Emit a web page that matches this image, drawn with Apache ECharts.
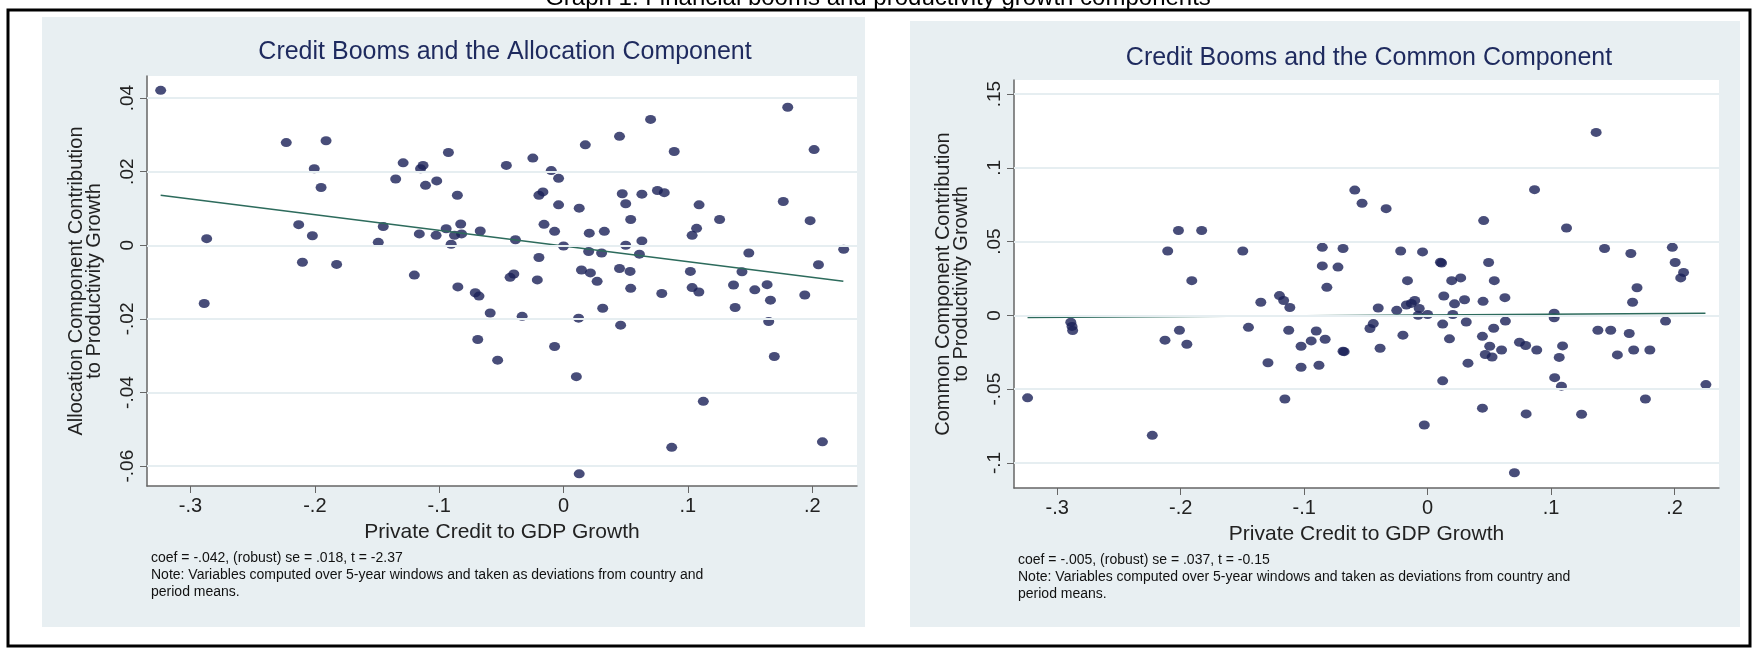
<!DOCTYPE html>
<html><head><meta charset="utf-8">
<script src="https://cdn.jsdelivr.net/npm/echarts@6/dist/echarts.min.js"></script>
<style>html,body{margin:0;padding:0;background:#fff}#c{width:1756px;height:648px}</style>
</head><body><div id="c"></div>
<script>
// Allocation component (left panel)
var allocX = [-0.324,-0.287,-0.289,-0.223,-0.191,-0.2005,-0.195,-0.213,-0.202,-0.21,-0.1825,-0.149,-0.145,-0.135,-0.129,-0.115,-0.113,-0.111,-0.102,-0.116,-0.12,-0.1025,-0.0926,-0.0944,-0.0854,-0.0827,-0.0877,-0.0904,-0.085,-0.082,-0.067,-0.071,-0.068,-0.059,-0.069,-0.053,-0.046,-0.0387,-0.043,-0.040,-0.0333,-0.0247,-0.0211,-0.0198,-0.0198,-0.0166,-0.0157,-0.0099,-0.004,-0.0072,-0.004,0,-0.0072,0.0126,0.0175,0.0207,0.0202,0.0144,0.0216,0.027,0.0306,0.0328,0.0315,0.0121,0.0103,0.0126,0.045,0.0472,0.05,0.054,0.05,0.045,0.0535,0.054,0.0459,0.061,0.063,0.063,0.070,0.0755,0.081,0.079,0.089,0.087,0.102,0.1034,0.107,0.109,0.1034,0.1088,0.1124,0.1255,0.149,0.1435,0.1367,0.138,0.1538,0.1637,0.1664,0.165,0.1695,0.1767,0.1803,0.194,0.1983,0.2015,0.205,0.2082,0.2253];
var allocY = [0.0421,0.0018,-0.0158,0.0279,0.0284,0.0208,0.0157,0.0056,0.0026,-0.0046,-0.0052,0.0008,0.0051,0.018,0.0224,0.0208,0.0217,0.0163,0.0175,0.0031,-0.0081,0.0027,0.0252,0.0045,0.0136,0.0058,0.0027,0.0003,-0.0113,0.0031,0.0039,-0.0129,-0.0138,-0.0184,-0.0256,-0.0312,0.0217,0.0015,-0.0087,-0.0078,-0.0193,0.0237,-0.0094,-0.0033,0.0136,0.0145,0.0057,0.0203,0.0182,0.0038,0.011,-0.0002,-0.0275,0.0101,0.0273,0.0033,-0.0017,-0.0067,-0.0075,-0.0098,-0.0021,0.0038,-0.0171,-0.0198,-0.0357,-0.0621,0.0296,0.014,0.0113,0.007,0,-0.0063,-0.0071,-0.0117,-0.0217,-0.0024,0.0012,0.0139,0.0342,0.0149,0.0143,-0.0131,0.0255,-0.0549,-0.0071,0.0027,0.0046,0.011,-0.0115,-0.0127,-0.0424,0.007,-0.0021,-0.0072,-0.0108,-0.0169,-0.0121,-0.0107,-0.0149,-0.0207,-0.0302,0.0119,0.0375,-0.0135,0.0067,0.026,-0.0053,-0.0534,-0.0011];
var allocFitX = [-0.324, 0.225];
var allocFitY = [0.0136, -0.0098];
var allocTicks = [-0.06, -0.04, -0.02, 0, 0.02, 0.04];

// Common component (right panel)
var commX = [-0.324,-0.289,-0.288,-0.2875,-0.223,-0.2105,-0.2127,-0.2018,-0.201,-0.195,-0.191,-0.183,-0.1497,-0.1451,-0.1351,-0.1293,-0.12,-0.1166,-0.1116,-0.1125,-0.1156,-0.1025,-0.1025,-0.0943,-0.0902,-0.088,-0.0853,-0.0853,-0.0816,-0.083,-0.0726,-0.0685,-0.0685,-0.0676,-0.059,-0.0531,-0.0467,-0.044,-0.04,-0.0385,-0.0336,-0.0218,-0.02,-0.025,-0.0163,-0.0172,-0.0132,-0.0104,-0.0077,-0.0068,-0.0041,-0.0027,0,0.0104,0.0113,0.0131,0.0122,0.0122,0.0177,0.0195,0.0268,0.0204,0.0218,0.0299,0.0313,0.0327,0.0454,0.0449,0.0444,0.0444,0.0494,0.054,0.0535,0.0467,0.0503,0.0522,0.0599,0.0626,0.063,0.0744,0.0794,0.0703,0.0798,0.0866,0.0884,0.1025,0.1025,0.1029,0.1084,0.1066,0.1093,0.1125,0.1247,0.1365,0.1379,0.1433,0.1483,0.1537,0.1633,0.1646,0.166,0.1696,0.1669,0.1764,0.18,0.1927,0.1982,0.2005,0.205,0.2073,0.2254];
var commY = [-0.0559,-0.0047,-0.0075,-0.0103,-0.0813,0.0436,-0.0168,0.0575,-0.0101,-0.0196,0.0235,0.0575,0.0436,-0.0081,0.0089,-0.0321,0.0134,0.0101,0.0053,-0.0101,-0.0567,-0.0209,-0.0352,-0.0173,-0.0106,-0.0338,0.0461,0.0335,0.019,-0.0162,0.0327,0.0453,-0.0243,-0.0246,0.0849,0.076,-0.0089,-0.0056,0.005,-0.0223,0.0723,0.0436,-0.0134,0.0034,0.0235,0.007,0.0081,0.0101,0,0.0047,0.043,-0.0743,0.0006,0.036,0.0355,0.0131,-0.0059,-0.0444,-0.0159,0.0235,0.0254,0.0006,0.0078,0.0106,-0.0045,-0.0324,0.0642,0.0095,-0.0142,-0.0629,0.0358,0.0235,-0.0087,-0.0265,-0.0209,-0.0282,-0.0235,0.012,-0.0039,-0.0182,-0.0204,-0.1067,-0.0668,0.0852,-0.0235,0.0014,-0.0017,-0.0422,-0.048,-0.0285,-0.0207,0.0592,-0.067,0.124,-0.0101,0.0453,-0.0101,-0.0268,-0.0123,0.0419,0.0089,0.0187,-0.0235,-0.0567,-0.0235,-0.0039,0.0461,0.0358,0.0254,0.0291,-0.0469];
var commFitX = [-0.324, 0.225];
var commFitY = [-0.0014, 0.0014];
var commTicks = [-0.1, -0.05, 0, 0.05, 0.1, 0.15];

var xTicks = [-0.3, -0.2, -0.1, 0, 0.1, 0.2];

function fmt(v) {
	var s = String(Math.round(v * 1000) / 1000);
	return s.replace('0.', '.');
}
function pairs(xs, ys) {
	return xs.map(function (x, i) { return [x, ys[i]]; });
}

var navy = '#1a2157';
var font = 'Liberation Sans';

function xAxis(idx) {
	return {
		gridIndex: idx, type: 'value', min: -0.335, max: 0.236,
		axisLine: { onZero: false, lineStyle: { color: '#666', width: 1.5 } },
		axisTick: { customValues: xTicks, length: 7, lineStyle: { color: '#666' } },
		axisLabel: { customValues: xTicks, formatter: fmt, color: '#222', fontSize: 20, fontFamily: font, margin: 10 },
		splitLine: { show: false },
		name: 'Private Credit to GDP Growth', nameLocation: 'middle', nameGap: 36,
		nameTextStyle: { color: '#222', fontSize: 21, fontFamily: font }
	};
}
function yAxis(idx, min, max, ticks, name) {
	return {
		gridIndex: idx, type: 'value', min: min, max: max,
		axisLine: { onZero: false, lineStyle: { color: '#666', width: 1.5 } },
		axisTick: { customValues: ticks, length: 7, lineStyle: { color: '#666' } },
		axisLabel: { customValues: ticks, formatter: fmt, rotate: 90, color: '#222', fontSize: 19, fontFamily: font, margin: 10 },
		splitLine: { show: false },
		name: name, nameLocation: 'middle', nameGap: 44,
		nameTextStyle: { color: '#222', fontSize: 20, fontFamily: font, lineHeight: 18 }
	};
}
function gridLines(ticks) {
	return {
		silent: true, symbol: 'none', label: { show: false },
		lineStyle: { color: '#e6eef1', type: 'solid', width: 2 },
		data: ticks.map(function (t) { return { yAxis: t }; })
	};
}

var chart = echarts.init(document.getElementById('c'));
chart.setOption({
	backgroundColor: '#fff',
	animation: false,
	grid: [
		{ left: 147, top: 76, width: 710, height: 410, backgroundColor: '#fff', show: true, borderWidth: 0 },
		{ left: 1014, top: 80, width: 705, height: 408, backgroundColor: '#fff', show: true, borderWidth: 0 }
	],
	xAxis: [xAxis(0), xAxis(1)],
	yAxis: [
		yAxis(0, -0.0654, 0.046, allocTicks, 'Allocation Component Contribution\nto Productivity Growth'),
		yAxis(1, -0.117, 0.1595, commTicks, 'Common Component Contribution\nto Productivity Growth')
	],
	graphic: [
		{ type: 'rect', z: -10, shape: { x: 8, y: 10, width: 1742, height: 636 }, style: { fill: '#fff', stroke: '#000', lineWidth: 3 } },
		{ type: 'rect', z: -9, shape: { x: 42, y: 17, width: 823, height: 610 }, style: { fill: '#e8eff2' } },
		{ type: 'rect', z: -9, shape: { x: 910, y: 21, width: 830, height: 606 }, style: { fill: '#e8eff2' } },
		{ type: 'text', x: 878, y: -14, style: { text: 'Graph 1: Financial booms and productivity growth components', font: '24px "Liberation Sans"', fill: '#000', textAlign: 'center' } },
		{ type: 'text', x: 505, y: 40, style: { text: 'Credit Booms and the Allocation Component', font: '25px "Liberation Sans"', fill: '#1e2a5e', textAlign: 'center' } },
		{ type: 'text', x: 1369, y: 46, style: { text: 'Credit Booms and the Common Component', font: '25px "Liberation Sans"', fill: '#1e2a5e', textAlign: 'center' } },
		{ type: 'text', x: 151, y: 550, style: { text: 'coef = -.042, (robust) se = .018, t = -2.37\nNote: Variables computed over 5-year windows and taken as deviations from country and\nperiod means.', font: '14px "Liberation Sans"', lineHeight: 17, fill: '#111' } },
		{ type: 'text', x: 1018, y: 552, style: { text: 'coef = -.005, (robust) se = .037, t = -0.15\nNote: Variables computed over 5-year windows and taken as deviations from country and\nperiod means.', font: '14px "Liberation Sans"', lineHeight: 17, fill: '#111' } }
	],
	series: [
		{ type: 'scatter', xAxisIndex: 0, yAxisIndex: 0, data: pairs(allocX, allocY), symbolSize: [11, 9], itemStyle: { color: navy }, markLine: gridLines(allocTicks), z: 3 },
		{ type: 'line', xAxisIndex: 0, yAxisIndex: 0, data: pairs(allocFitX, allocFitY), symbol: 'none', lineStyle: { color: '#2d6b5c', width: 1.5 }, z: 4 },
		{ type: 'scatter', xAxisIndex: 1, yAxisIndex: 1, data: pairs(commX, commY), symbolSize: [11, 9], itemStyle: { color: navy }, markLine: gridLines(commTicks), z: 3 },
		{ type: 'line', xAxisIndex: 1, yAxisIndex: 1, data: pairs(commFitX, commFitY), symbol: 'none', lineStyle: { color: '#2d6b5c', width: 1.5 }, z: 4 }
	]
});
</script>
</body></html>
